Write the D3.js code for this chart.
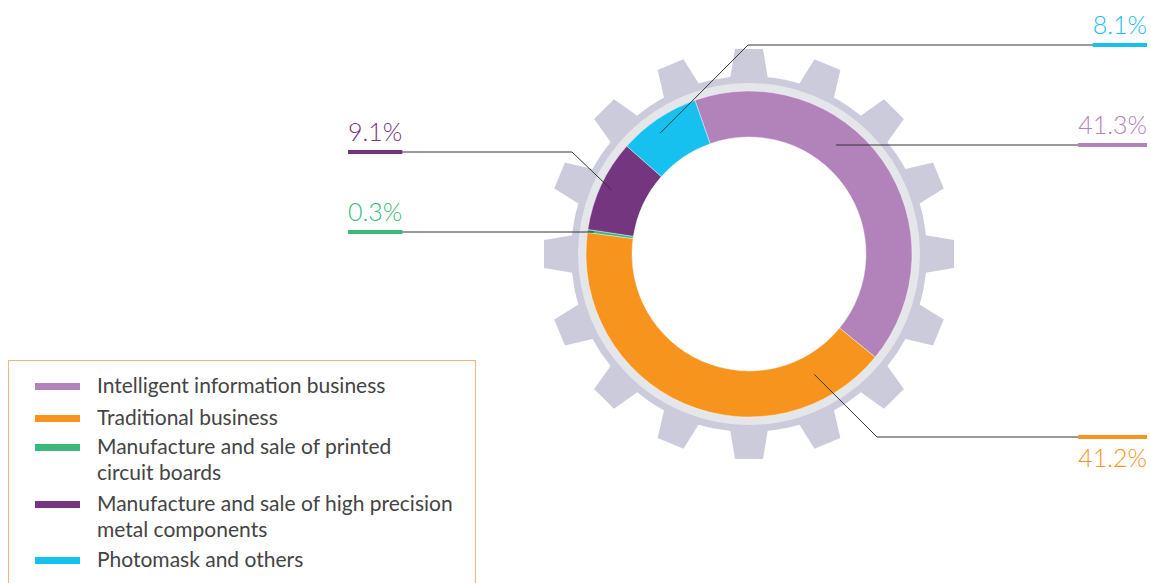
<!DOCTYPE html>
<html>
<head>
<meta charset="utf-8">
<script src="https://cdn.jsdelivr.net/npm/d3@7"></script>
<style>
  html, body { margin: 0; padding: 0; background: #fff; }
  svg { display: block; }
  .pct { font-family: Lato, "Open Sans", sans-serif; font-weight: 300; font-size: 25px; }
  .legend text { font-family: Lato, "Open Sans", sans-serif; font-size: 21px; fill: #444; }
</style>
</head>
<body>
<svg id="chart" width="1151" height="583"></svg>
<script>
// segment data
var categories = [
    'Intelligent information business',
    'Traditional business',
    'Manufacture and sale of printed circuit boards',
    'Manufacture and sale of high precision metal components',
    'Photomask and others'
];
var shares = [41.3, 41.2, 0.3, 9.1, 8.1];
var pctLabels = ['41.3%', '41.2%', '0.3%', '9.1%', '8.1%'];
var colors = ['#b283bb', '#f7941e', '#3bb97a', '#74367f', '#16c1f0'];
var legendLines = [
    ['Intelligent information business'],
    ['Traditional business'],
    ['Manufacture and sale of printed', 'circuit boards'],
    ['Manufacture and sale of high precision', 'metal components'],
    ['Photomask and others']
];

// callout layout: where the leader starts inside the slice, where it bends, where label sits
var callouts = [
    {side: 'right', t: 0.39, r: 140, elbowX: null, y: 145, text: 'above'},
    {side: 'right', t: 0.15, r: 137, elbowX: 877, y: 437, text: 'below'},
    {side: 'left',  t: 0.5,  r: 157, elbowX: null, y: 232, text: 'above'},
    {side: 'left',  t: 0.5,  r: 152, elbowX: 572, y: 152, text: 'above'},
    {side: 'right', t: 0.42, r: 150, elbowX: 748, y: 45,  text: 'above'}
];

var W = 1151, H = 583;
var cx = 749, cy = 254;
var rInner = 117, rOuter = 163, rRing = 171, rBody = 178, rTooth = 205;
var leftX = 348, rightX = 1147;
var startAngle = -19.4 * Math.PI / 180;

var svg = d3.select('#chart');

// gear
var gear = svg.append('g').attr('transform', 'translate(' + cx + ',' + cy + ')');
gear.append('circle').attr('r', rBody).attr('fill', '#cccbdc');
d3.range(16).forEach(function (i) {
    gear.append('path')
        .attr('d', 'M-19,' + (-rBody + 3) + 'L-14,' + (-rTooth) + 'L14,' + (-rTooth) + 'L19,' + (-rBody + 3) + 'Z')
        .attr('fill', '#cccbdc')
        .attr('transform', 'rotate(' + (i * 22.5) + ')');
});
gear.append('circle').attr('r', rRing).attr('fill', '#e5e6e9');
gear.append('circle').attr('r', rInner).attr('fill', '#fff');

// donut
var pie = d3.pie().sort(null).value(function (d) { return d; })
    .startAngle(startAngle).endAngle(startAngle + 2 * Math.PI);
var arcs = pie(shares);
var arc = d3.arc().innerRadius(rInner).outerRadius(rOuter);

gear.selectAll('path.slice').data(arcs).enter().append('path')
    .attr('class', 'slice')
    .attr('d', arc)
    .attr('fill', function (d, i) { return colors[i]; })
    .attr('stroke', '#fff')
    .attr('stroke-width', 0.4);

// callouts
var labels = svg.append('g');
arcs.forEach(function (d, i) {
    var c = callouts[i];
    var a = d.startAngle + c.t * (d.endAngle - d.startAngle);
    var ax = cx + c.r * Math.sin(a), ay = cy - c.r * Math.cos(a);
    var ex = c.elbowX == null ? ax : c.elbowX;
    var endX = c.side === 'right' ? rightX : leftX;

    labels.append('path')
        .attr('d', d3.line()([[ax, ay], [ex, c.y], [endX, c.y]]))
        .attr('fill', 'none')
        .attr('stroke', '#333')
        .attr('stroke-width', 1);

    var txt = labels.append('text')
        .attr('class', 'pct')
        .attr('fill', colors[i])
        .attr('x', endX)
        .attr('y', c.text === 'above' ? c.y - 11 : c.y + 30)
        .attr('text-anchor', c.side === 'right' ? 'end' : 'start')
        .text(pctLabels[i]);
    var tw = txt.node().getComputedTextLength();

    labels.append('rect')
        .attr('x', c.side === 'right' ? endX - tw : endX)
        .attr('y', c.y - 2)
        .attr('width', tw)
        .attr('height', 4)
        .attr('fill', colors[i]);
});

// legend
var legend = svg.append('g').attr('class', 'legend');
legend.append('rect')
    .attr('x', 8.5).attr('y', 360.5)
    .attr('width', 467).attr('height', 240)
    .attr('fill', 'none')
    .attr('stroke', '#f8b27c')
    .attr('stroke-width', 1);

var rowY = [393, 425, 454, 511, 567];
legendLines.forEach(function (lines, i) {
    legend.append('rect')
        .attr('x', 35).attr('y', rowY[i] - 10)
        .attr('width', 45).attr('height', 7)
        .attr('fill', colors[i]);
    var t = legend.append('text').attr('x', 97).attr('y', rowY[i]);
    lines.forEach(function (s, j) {
        t.append('tspan').attr('x', 97).attr('dy', j === 0 ? 0 : 25.5).text(s);
    });
});
</script>
</body>
</html>
